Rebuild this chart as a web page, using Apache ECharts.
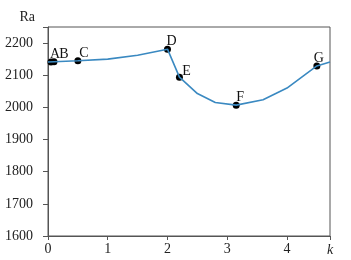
<!DOCTYPE html>
<html><head><meta charset="utf-8">
<script src="https://cdn.jsdelivr.net/npm/echarts@6/dist/echarts.min.js"></script>
<style>html,body{margin:0;padding:0;background:#fff}#c{width:351px;height:260px}</style>
</head><body><div id="c"></div>
<script>
var kValues = [0, 0.1, 0.5, 1.0, 1.5, 2.0, 2.2, 2.5, 2.8, 3.15, 3.6, 4.0, 4.5, 4.72];
var raValues = [2141, 2142, 2145, 2150, 2162, 2181, 2094, 2043, 2015, 2007, 2024, 2060, 2129, 2141];
var pointNames = ['A', 'B', 'C', 'D', 'E', 'F', 'G'];
var pointK = [0.05, 0.1, 0.5, 2.0, 2.2, 3.15, 4.5];
var pointRa = [2141, 2142, 2145, 2181, 2094, 2007, 2129];
var yTicks = [1600, 1700, 1800, 1900, 2000, 2100, 2200];
var xTicks = [0, 1, 2, 3, 4];

var font = 'Liberation Serif';
var chart = echarts.init(document.getElementById('c'));
var lineData = kValues.map(function (k, i) { return [k, raValues[i]]; });
var labelOffsets = {A: [4, 3], B: [10, 3], C: [6, 3], D: [4, 3], E: [7, 5], F: [4, 3], G: [2, 3]};
var pts = pointNames.map(function (n, i) {
  return {value: [pointK[i], pointRa[i]], name: n,
    label: {offset: labelOffsets[n]}};
});
chart.setOption({
  animation: false,
  grid: {left: 48, right: 21, top: 27, bottom: 24, outerBoundsMode: 'none', containLabel: false,
    show: true, borderColor: '#555', borderWidth: 1},
  xAxis: {
    type: 'value', min: 0, max: 4.72, interval: 1,
    name: 'k', nameLocation: 'end', nameGap: -3,
    nameTextStyle: {fontFamily: font, fontStyle: 'italic', fontSize: 14, color: '#222', verticalAlign: 'top', padding: [7, 0, 0, 0]},
    axisLine: {lineStyle: {color: '#555'}},
    axisTick: {length: 4, lineStyle: {color: '#555'}},
    axisLabel: {fontFamily: font, fontSize: 14, color: '#222', margin: 6,
      formatter: function (v) { return xTicks.indexOf(v) >= 0 ? String(v) : ''; }},
    splitLine: {show: false}
  },
  yAxis: {
    type: 'value', min: 1600, max: 2250, interval: 100,
    name: 'Ra', nameLocation: 'end', nameGap: 3,
    nameTextStyle: {fontFamily: font, fontSize: 14, color: '#222', align: 'right', padding: [0, 13, 0, 0]},
    axisLine: {show: true, lineStyle: {color: '#555'}},
    axisTick: {show: true, length: 5, lineStyle: {color: '#555'}},
    axisLabel: {fontFamily: font, fontSize: 14, color: '#222', margin: 15,
      formatter: function (v) { return yTicks.indexOf(v) >= 0 ? String(v) : ''; }},
    splitLine: {show: false}
  },
  series: [{
    type: 'line', data: lineData, symbol: 'none',
    lineStyle: {color: '#3a89c1', width: 1.6}
  }, {
    type: 'scatter', data: pts, symbolSize: 7,
    itemStyle: {color: '#000', opacity: 1, borderWidth: 0},
    label: {show: true, position: 'top', distance: 0, formatter: '{b}',
      fontFamily: font, fontSize: 14, color: '#111'}
  }]
});
</script></body></html>
